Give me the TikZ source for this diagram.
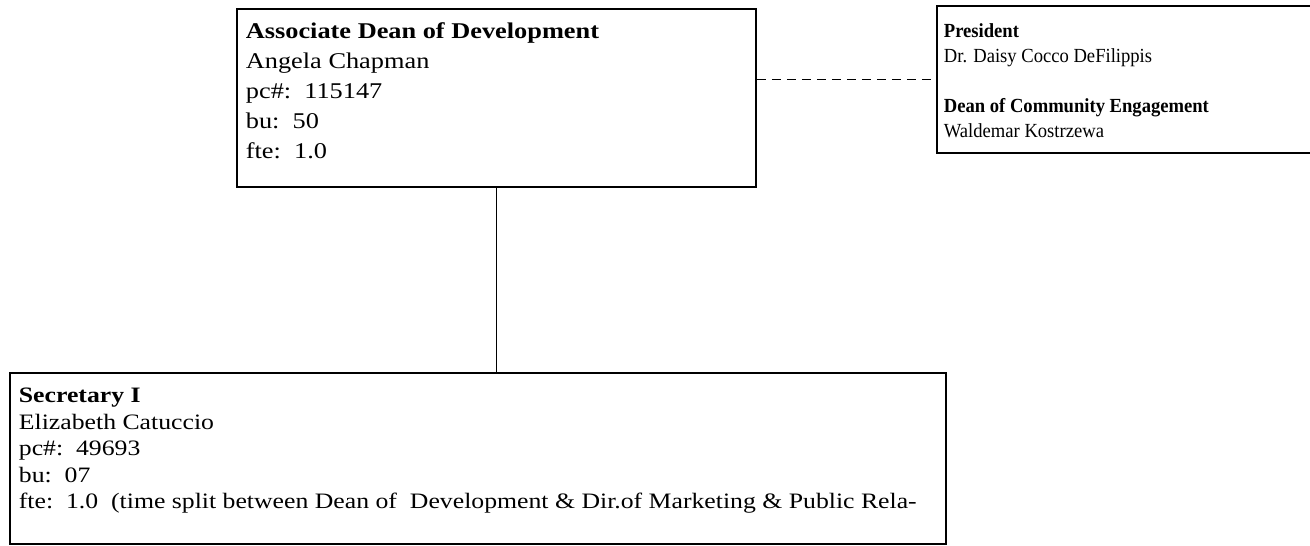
\documentclass[tikz,border=0pt]{standalone}
\usepackage{fontspec}
\setmainfont[FakeStretch=1.17]{Liberation Serif}
\newfontfamily\presfont[FakeStretch=0.93]{Liberation Serif}
\usetikzlibrary{positioning}

\begin{document}
\begin{tikzpicture}[x=1pt,y=-1pt,
  post/.style={draw,line width=1.8pt,anchor=north west,inner sep=9pt,
    font=\fontsize{22.5}{30}\selectfont},
  report/.style={line width=1.8pt},
  advise/.style={line width=1.4pt,dash pattern=on 9pt off 6pt}]
  \clip (0,0) rectangle (1310,546);
  \node[post] (dean) at (236,8) {\parbox[t][160pt][t]{501pt}{\strut\textbf{Associate Dean of Development}\\
    Angela Chapman\\ pc\#:\ \ 115147\\ bu:\ \ 50\\ fte:\ \ 1.0}};
  \node[post,inner xsep=7pt,inner ysep=14.5pt,font=\presfont\fontsize{20}{25}\selectfont] (pres) at (936,5)
    {\parbox[t][118pt][t]{385pt}{\strut\textbf{President}\\ Dr. Daisy Cocco DeFilippis\\[25pt]
    \textbf{Dean of Community Engagement}\\ Waldemar Kostrzewa}};
  \node[post,inner ysep=11.5pt,font=\fontsize{22}{26.5}\selectfont] (sec) at (9,372) {\parbox[t][148pt][t]{918pt}{\strut\textbf{Secretary I}\\
    Elizabeth Catuccio\\ pc\#:\ \ 49693\\ bu:\ \ 07\\
    \makebox[0pt][l]{fte:\ \ 1.0\ \ (time split between Dean of\ \ Development \& Dir.of Marketing \& Public Rela-}}};
  \draw[report] (dean.south) -- (dean.south |- sec.north);
  \draw[advise] (pres.west -| dean.east) -- (pres.west);
\end{tikzpicture}
\end{document}
